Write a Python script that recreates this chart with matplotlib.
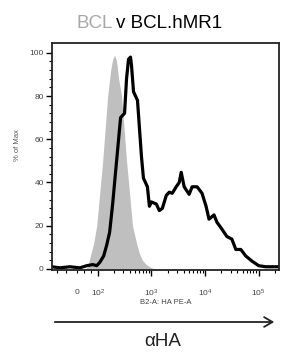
import numpy as np
import matplotlib
matplotlib.use('Agg')
import matplotlib.pyplot as plt

# channel positions in decades (log10 of intensity, 0 sits at ~1.6)
bcl_x = [1.759, 1.815, 1.852, 1.926, 1.981, 2.037, 2.093, 2.148, 2.185, 2.241,
         2.278, 2.315, 2.352, 2.389, 2.444, 2.5, 2.537, 2.593, 2.648, 2.722,
         2.778, 2.833, 2.907, 3.0, 3.074]
bcl_y = [0, 1, 5, 12, 20, 35, 50, 68, 80, 92,
         97, 99, 96, 88, 80, 62, 50, 35, 20, 12,
         7, 4, 2, 0.5, 0]

hmr1_x = [1.148, 1.296, 1.481, 1.667, 1.796, 1.907, 1.981, 2.037, 2.111, 2.167,
          2.222, 2.278, 2.333, 2.389, 2.426, 2.463, 2.5, 2.537, 2.574, 2.611,
          2.630, 2.667, 2.704, 2.741, 2.778, 2.815, 2.852, 2.889, 2.926, 2.963,
          3.0, 3.093, 3.148, 3.204, 3.278, 3.333, 3.389, 3.463, 3.519, 3.556,
          3.611, 3.704, 3.759, 3.852, 3.944, 4.019, 4.074, 4.167, 4.222, 4.315,
          4.407, 4.5, 4.574, 4.667, 4.759, 4.870, 5.0, 5.130, 5.352]
hmr1_y = [1, 0.5, 1, 0.5, 1.5, 2, 1.5, 3, 6, 11,
          17, 30, 45, 60, 70, 71, 72, 88, 97, 98,
          94, 82, 80, 78, 65, 52, 42, 40, 38, 29,
          31, 30, 27, 28, 34, 35.5, 35, 38, 40, 44.7,
          38, 34.5, 38, 38, 35, 29, 23, 25, 21.6, 18.4,
          15, 13.8, 9, 9, 6, 3.7, 1.5, 1, 1]

zero_pos = 1.61
xtick_pos = [2, 3, 4, 5]
xtick_lab = ['$10^2$', '$10^3$', '$10^4$', '$10^5$']
ytick_pos = [0, 20, 40, 60, 80, 100]

plt.rcParams['font.family'] = ['Liberation Sans', 'DejaVu Sans']
plt.rcParams['mathtext.default'] = 'regular'

fig = plt.figure(figsize=(2.88, 3.6), dpi=100)
ax = fig.add_axes([0.181, 0.25, 0.788, 0.631])

ax.fill_between(bcl_x, bcl_y, 0, color='#bfbfbf', lw=0, zorder=1)
ax.plot(hmr1_x, hmr1_y, color='black', lw=2.3, zorder=2)

ax.set_xlim(1.15, 5.38)
ax.set_ylim(-0.5, 104.6)

ax.set_xticks(xtick_pos)
ax.set_xticklabels(xtick_lab)
# the "0" label rides on a minor tick so it can sit on the same baseline
minors = [np.log10(k * 10.0 ** n) for n in range(2, 6) for k in range(2, 10)]
minors = [m for m in minors if m < 5.38] + [1.25, 1.4, 1.75, 1.88]
ax.set_xticks([zero_pos] + minors, minor=True)
ax.set_xticklabels(['0'] + [''] * len(minors), minor=True)
ax.set_yticks(ytick_pos)
ax.set_yticks(np.arange(0, 104, 4), minor=True)

ax.tick_params(which='major', direction='out', length=4, width=1,
               labelsize=6, labelcolor='#444444', pad=2)
ax.tick_params(axis='x', which='major', pad=8.5)
ax.tick_params(which='minor', direction='out', length=2, width=0.8,
               labelsize=6, labelcolor='#444444')
ax.tick_params(axis='x', which='minor', pad=12)
for s in ax.spines.values():
    s.set_linewidth(1.3)
    s.set_color('#222222')

ax.set_ylabel('% of Max', fontsize=5.5, color='#555555', labelpad=4)
ax.yaxis.set_label_coords(-0.135, 0.55)
ax.set_xlabel('B2-A: HA PE-A', fontsize=5.5, color='#444444', labelpad=0.5)

# two-colour title
fig.text(113 / 288, 1 - 23 / 360, 'BCL', color='#a8a8a8', fontsize=13.5,
         ha='right', va='center')
fig.text(116 / 288, 1 - 23 / 360, 'v BCL.hMR1', color='black', fontsize=13.5,
         ha='left', va='center')

# arrow + label underneath
fig.add_artist(matplotlib.patches.FancyArrowPatch(
    (52 / 288, 1 - 322 / 360), (277 / 288, 1 - 322 / 360),
    transform=fig.transFigure, arrowstyle='->,head_length=6,head_width=3.5',
    lw=1.3, color='#222222', mutation_scale=1))
fig.text(163 / 288, 1 - 342 / 360, 'αHA', fontsize=13.5, ha='center',
         va='center', color='#222222')

fig.savefig('out.png', dpi=100)
